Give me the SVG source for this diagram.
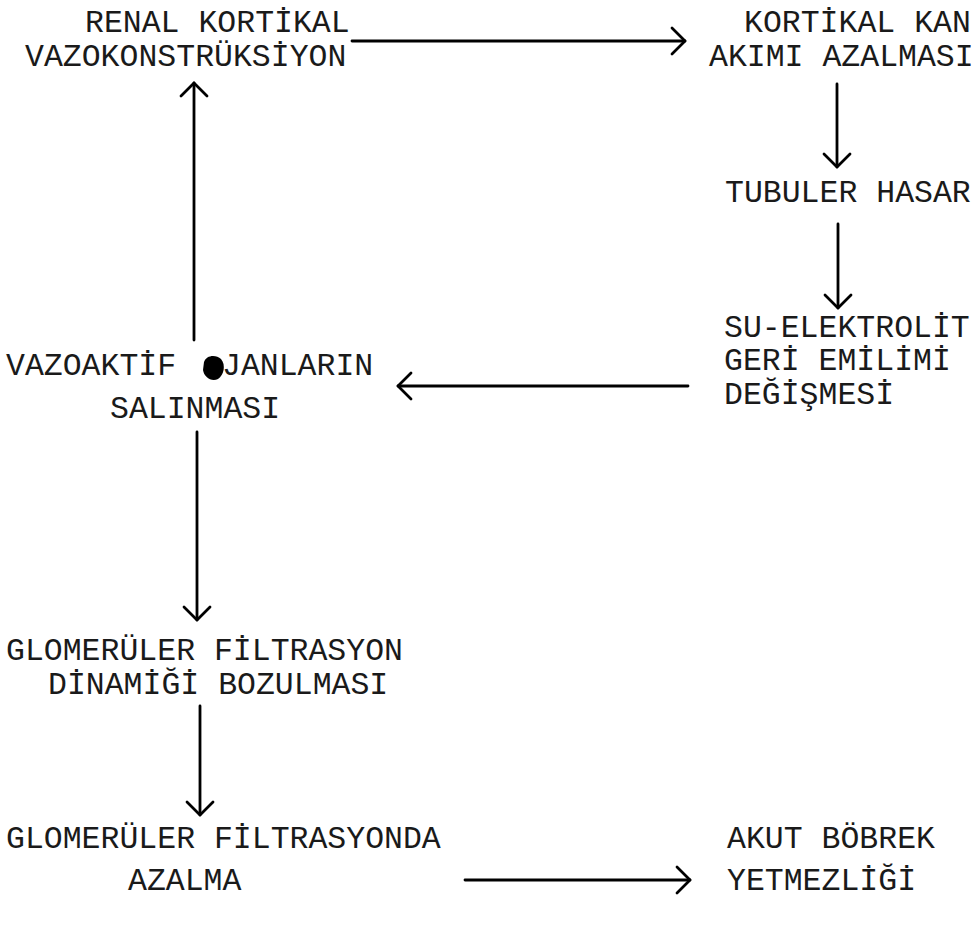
<svg xmlns="http://www.w3.org/2000/svg" width="979" height="934" viewBox="0 0 979 934">
<defs>
<marker id="ah" viewBox="-16 -16 32 32" markerWidth="32" markerHeight="32" refX="0" refY="0" orient="auto" markerUnits="userSpaceOnUse" overflow="visible">
<path d="M-13,-13 L0,0 L-13,13" fill="none" stroke="#000" stroke-width="2.8" stroke-linecap="round" stroke-linejoin="round"/>
</marker>
<style>
text{font-family:"Liberation Mono","Courier New",monospace;font-size:31.5px;fill:#1a1a1a}
</style>
</defs>
<rect width="979" height="934" fill="#fff"/>
<g id="n1"><text x="85" y="32">RENAL KORTİKAL</text><text x="25" y="66">VAZOKONSTRÜKSİYON</text></g>
<g id="n2"><text x="744" y="32">KORTİKAL KAN</text><text x="709" y="66">AKIMI AZALMASI</text></g>
<g id="n3"><text x="725" y="202">TUBULER HASAR</text></g>
<g id="n4"><text x="724" y="337">SU-ELEKTROLİT</text><text x="724" y="370">GERİ EMİLİMİ</text><text x="724" y="404">DEĞİŞMESİ</text></g>
<g id="n5"><text x="6" y="375">VAZOAKTİF <tspan x="222">JANLARIN</tspan></text><path d="M204,362 C206,355 216,354 221,359 C226,365 224,375 218,379 C211,382 204,377 203,370 Z" fill="#000"/><text x="110" y="418">SALINMASI</text></g>
<g id="n6"><text x="6" y="660">GLOMERÜLER FİLTRASYON</text><text x="48" y="694">DİNAMİĞİ BOZULMASI</text></g>
<g id="n7"><text x="6" y="848">GLOMERÜLER FİLTRASYONDA</text><text x="128" y="890">AZALMA</text></g>
<g id="n8"><text x="727" y="848">AKUT BÖBREK</text><text x="727" y="890">YETMEZLİĞİ</text></g>
<g id="connectors" fill="none" stroke="#000" stroke-width="2.8" stroke-linecap="round">
<path d="M352,41 H685" marker-end="url(#ah)"/>
<path d="M837,84 V167" marker-end="url(#ah)"/>
<path d="M838,224 V308" marker-end="url(#ah)"/>
<path d="M688,386 H398" marker-end="url(#ah)"/>
<path d="M194,340 V83" marker-end="url(#ah)"/>
<path d="M197,432 V620" marker-end="url(#ah)"/>
<path d="M200,706 V815" marker-end="url(#ah)"/>
<path d="M465,880 H690" marker-end="url(#ah)"/>
</g>
</svg>
